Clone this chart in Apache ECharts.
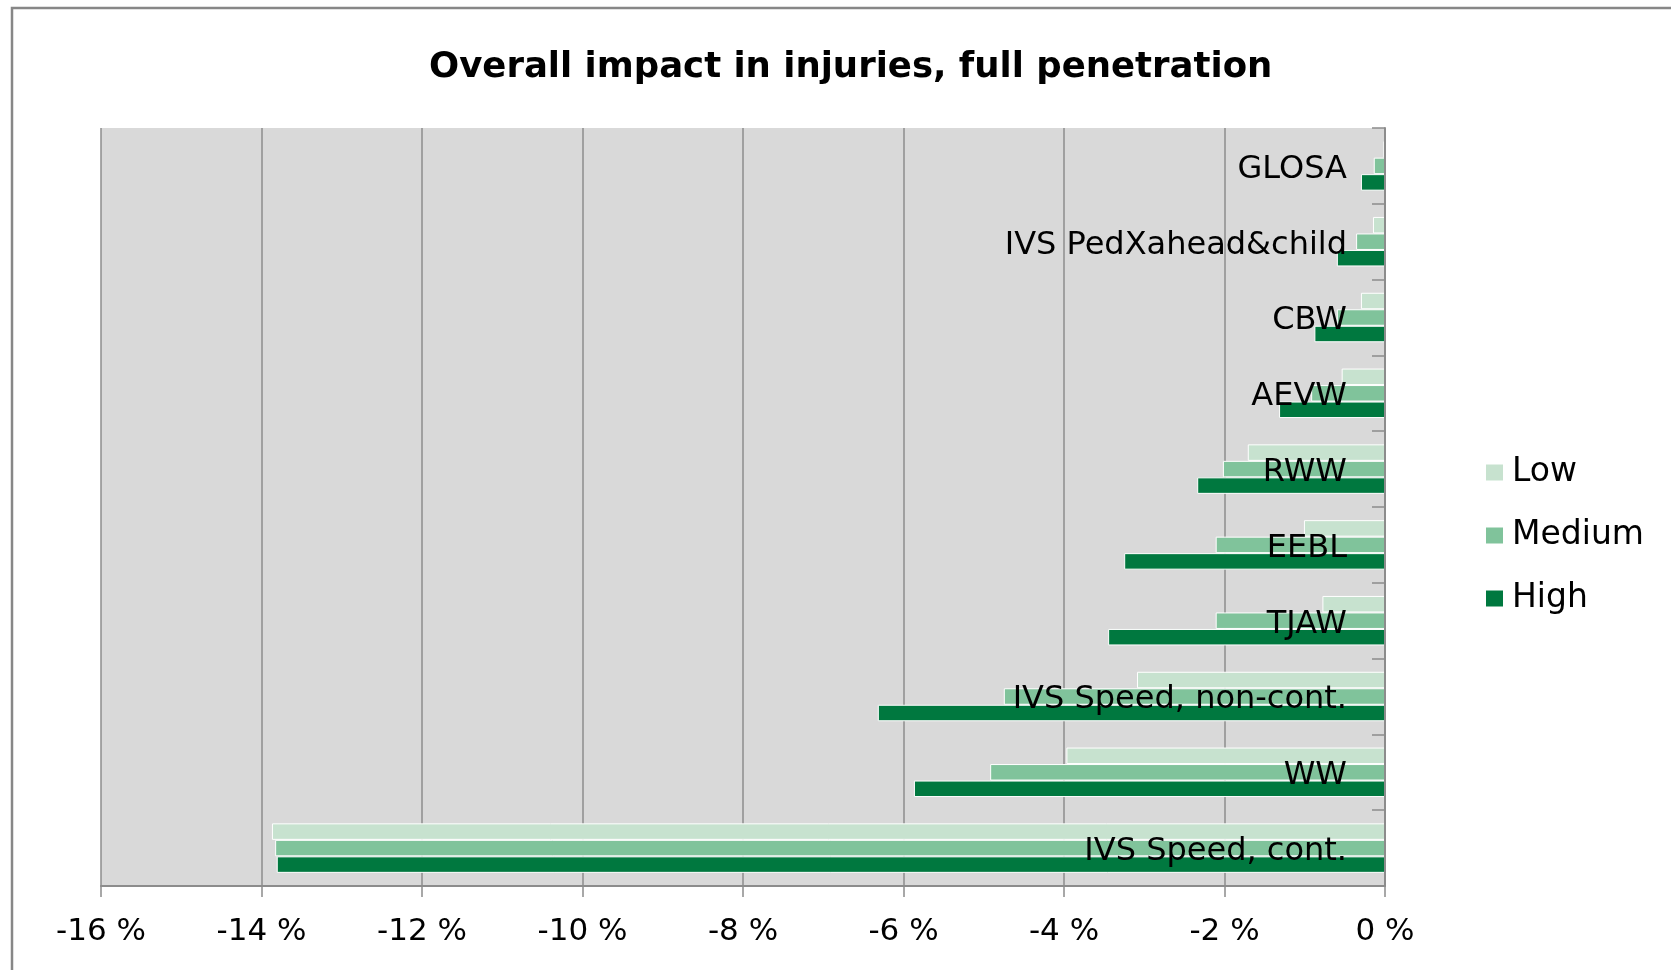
<!DOCTYPE html>
<html>
<head>
<meta charset="utf-8">
<title>Overall impact in injuries</title>
<script src="https://cdn.jsdelivr.net/npm/echarts@6/dist/echarts.min.js"></script>
<style>
  html, body { margin: 0; padding: 0; background: #fff; }
  #chart { width: 1671px; height: 970px; }
</style>
</head>
<body>
<div id="chart"></div>
<script>
// categories top -> bottom (yAxis is inverse)
const categories = ['GLOSA', 'IVS PedXahead&child', 'CBW', 'AEVW', 'RWW', 'EEBL', 'TJAW', 'IVS Speed, non-cont.', 'WW', 'IVS Speed, cont.'];
// impact in %
const lowValues = [-0.02, -0.15, -0.30, -0.54, -1.71, -1.01, -0.78, -3.09, -3.97, -13.87];
const mediumValues = [-0.14, -0.36, -0.60, -0.92, -2.02, -2.11, -2.11, -4.75, -4.92, -13.83];
const highValues = [-0.30, -0.60, -0.88, -1.32, -2.34, -3.25, -3.45, -6.32, -5.87, -13.81];
const xTicks = [-16, -14, -12, -10, -8, -6, -4, -2, 0];

const font = 'DejaVu Sans';
const axisGray = '#8c8c8c';

const barSeries = (name, data, color) => ({
  name: name,
  type: 'bar',
  data: data,
  barWidth: 16.5,
  barGap: '0%',
  itemStyle: { color: color, borderColor: '#fff', borderWidth: 1 }
});

const chart = echarts.init(document.getElementById('chart'));
chart.setOption({
  animation: false,
  textStyle: { fontFamily: font },
  title: {
    text: 'Overall impact in injuries, full penetration',
    left: 424,
    top: 45,
    textStyle: { fontFamily: font, fontSize: 35.5, fontWeight: 'bold', color: '#000' }
  },
  graphic: [{
    type: 'rect',
    shape: { x: 12, y: 8, width: 1700, height: 1000 },
    style: { fill: 'none', stroke: '#878787', lineWidth: 2.5 },
    silent: true
  }],
  legend: {
    orient: 'vertical',
    left: 1479,
    top: 451,
    itemWidth: 19,
    itemHeight: 18,
    itemGap: 30,
    icon: 'rect',
    textStyle: { fontFamily: font, fontSize: 33, color: '#000', padding: [0, 0, 0, 3] },
    data: ['Low', 'Medium', 'High']
  },
  grid: {
    left: 101,
    right: 286,
    top: 128,
    bottom: 84,
    show: true,
    backgroundColor: '#d9d9d9',
    borderWidth: 0
  },
  xAxis: {
    type: 'value',
    min: xTicks[0],
    max: xTicks[xTicks.length - 1],
    interval: 2,
    axisLine: { show: true, lineStyle: { color: axisGray, width: 2 } },
    axisTick: { show: true, length: 11, lineStyle: { color: axisGray, width: 1.5 } },
    splitLine: { show: true, lineStyle: { color: axisGray, width: 1.5 } },
    axisLabel: {
      margin: 30,
      fontSize: 31,
      color: '#000',
      fontFamily: font,
      formatter: (v) => v + ' %'
    }
  },
  yAxis: {
    type: 'category',
    data: categories,
    inverse: true,
    position: 'right',
    z: 5,
    axisLine: { show: true, lineStyle: { color: axisGray, width: 2 } },
    axisTick: { show: true, inside: true, length: 13, lineStyle: { color: axisGray, width: 1.5 } },
    splitLine: { show: false },
    axisLabel: {
      inside: true,
      margin: 38,
      formatter: (v) => '{c|' + v + '}',
      rich: {
        c: { fontSize: 32, color: '#000', fontFamily: font, padding: [7, 0, 0, 0] }
      }
    }
  },
  series: [
    barSeries('Low', lowValues, '#c7e2cf'),
    barSeries('Medium', mediumValues, '#80c39b'),
    barSeries('High', highValues, '#00783f')
  ]
});
window.onresize = chart.resize;
</script>
</body>
</html>
